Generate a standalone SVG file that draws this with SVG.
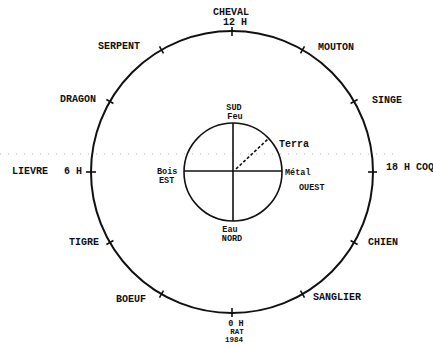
<svg xmlns="http://www.w3.org/2000/svg" width="433" height="346" viewBox="0 0 433 346">
<style>
.t{font-family:"Liberation Mono","DejaVu Sans Mono",monospace;font-weight:bold;fill:#111;font-size:10px}
.s{font-size:8.5px}
.x{font-size:7.5px}
.c{text-anchor:middle}
.ln{stroke:#111;fill:none}
</style>
<rect width="433" height="346" fill="#fff"/>
<line x1="0" y1="154" x2="400" y2="154" stroke="#bbb" stroke-width="1" stroke-dasharray="1 7"/>
<g id="connectors">
<circle class="ln" cx="232" cy="172" r="141" stroke-width="2"/>
<circle class="ln" cx="233" cy="172" r="49" stroke-width="1.6"/>
<line class="ln" x1="233" y1="123" x2="233" y2="221" stroke-width="1.6"/>
<line class="ln" x1="184" y1="171" x2="282" y2="171" stroke-width="1.6"/>
<line class="ln" x1="236" y1="169" x2="268" y2="139" stroke-width="1.6" stroke-dasharray="3 2"/>
<g stroke="#111" stroke-width="1.6">
<line x1="232" y1="36" x2="232" y2="27"/>
<line x1="300.5" y1="53.4" x2="304.5" y2="46.4"/>
<line x1="350.6" y1="103.5" x2="357.6" y2="99.5"/>
<line x1="368" y1="172" x2="377" y2="172"/>
<line x1="350.6" y1="240.5" x2="357.6" y2="244.5"/>
<line x1="300.5" y1="290.6" x2="304.5" y2="297.6"/>
<line x1="232" y1="308" x2="232" y2="317"/>
<line x1="163.5" y1="290.6" x2="159.5" y2="297.6"/>
<line x1="113.4" y1="240.5" x2="106.4" y2="244.5"/>
<line x1="96" y1="172" x2="86" y2="172"/>
<line x1="113.4" y1="103.5" x2="106.4" y2="99.5"/>
<line x1="163.5" y1="53.4" x2="159.5" y2="46.4"/>
</g>
</g>
<g id="cheval"><text class="t c" x="231" y="14.5" font-size="9">CHEVAL</text><text class="t c" x="235" y="25" font-size="9">12 H</text></g>
<g id="mouton"><text class="t" x="318" y="50">MOUTON</text></g>
<g id="singe"><text class="t" x="372" y="103">SINGE</text></g>
<g id="coq"><text class="t" x="386" y="170">18 H COQ</text></g>
<g id="chien"><text class="t" x="368" y="245">CHIEN</text></g>
<g id="sanglier"><text class="t" x="313" y="300">SANGLIER</text></g>
<g id="rat"><text class="t s c" x="236" y="326">0 H</text><text class="t x c" x="237" y="334">RAT</text><text class="t x c" x="234" y="342">1984</text></g>
<g id="boeuf"><text class="t" x="116" y="302">BOEUF</text></g>
<g id="tigre"><text class="t" x="69" y="245">TIGRE</text></g>
<g id="lievre"><text class="t" x="12" y="174">LIEVRE</text><text class="t" x="64" y="174">6 H</text></g>
<g id="dragon"><text class="t" x="60" y="102">DRAGON</text></g>
<g id="serpent"><text class="t" x="98" y="49">SERPENT</text></g>
<g id="sud"><text class="t s c" x="234" y="110">SUD</text><text class="t s c" x="235" y="118.5">Feu</text></g>
<g id="terra"><text class="t" x="279" y="147">Terra</text></g>
<g id="metal"><text class="t s" x="285" y="175">Métal</text><text class="t s" x="299" y="190">OUEST</text></g>
<g id="bois"><text class="t s" x="157" y="174">Bois</text><text class="t s" x="159" y="183">EST</text></g>
<g id="eau"><text class="t s c" x="230" y="232">Eau</text><text class="t s c" x="232" y="240.5">NORD</text></g>
</svg>
